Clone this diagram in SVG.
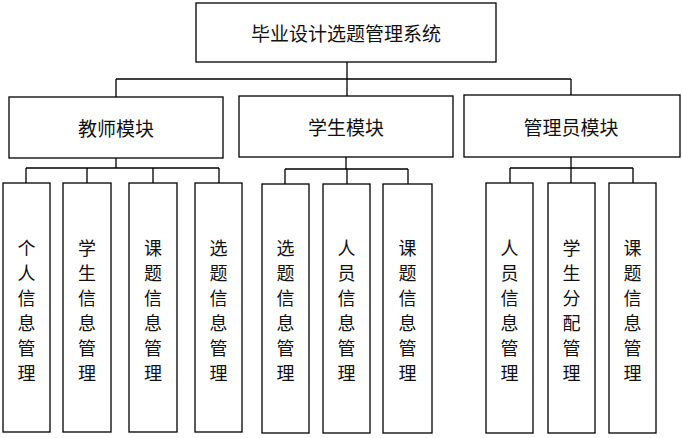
<svg xmlns="http://www.w3.org/2000/svg" width="682" height="438" viewBox="0 0 682 438">
<style>
rect{fill:#fff;stroke:#000;stroke-width:1.3}
.c path{fill:none;stroke:#000;stroke-width:1.3}
text{font-family:"Noto Sans CJK SC","Noto Sans",sans-serif;fill:#111;text-anchor:middle;dominant-baseline:central}
.t{font-size:19px}
.v{font-size:18px}
</style>
<rect x="0" y="0" width="682" height="438" style="stroke:none"/>
<g class="c">
<path d="M347 62V79M116 79H571M116 79V97M347 79V96M571 79V95"/>
<path d="M116 158V168M26 168H219M26 168V183M87 168V183M153 168V183M219 168V183"/>
<path d="M346 157V169M285 169H408M285 169V184M347 169V184M408 169V184"/>
<path d="M571 157V168M510 168H633M510 168V183M571 168V183M633 168V183"/>
</g>
<g id="root"><rect x="196" y="3" width="300" height="59"/><text class="t" x="346" y="32">毕业设计选题管理系统</text></g>
<g id="teacher"><rect x="9" y="97" width="214" height="61"/><text class="t" x="116" y="127">教师模块</text></g>
<g id="student"><rect x="239" y="96" width="214" height="61"/><text class="t" x="346" y="126">学生模块</text></g>
<g id="admin"><rect x="464" y="95" width="216" height="62"/><text class="t" x="571" y="126">管理员模块</text></g>
<g id="t1"><rect x="3" y="183" width="47" height="249"/><text class="v" x="26.5"><tspan x="26.5" y="247">个</tspan><tspan x="26.5" y="272">人</tspan><tspan x="26.5" y="297">信</tspan><tspan x="26.5" y="322">息</tspan><tspan x="26.5" y="347">管</tspan><tspan x="26.5" y="372">理</tspan></text></g>
<g id="t2"><rect x="63" y="183" width="48" height="249"/><text class="v"><tspan x="87" y="247">学</tspan><tspan x="87" y="272">生</tspan><tspan x="87" y="297">信</tspan><tspan x="87" y="322">息</tspan><tspan x="87" y="347">管</tspan><tspan x="87" y="372">理</tspan></text></g>
<g id="t3"><rect x="129" y="183" width="48" height="249"/><text class="v"><tspan x="153" y="247">课</tspan><tspan x="153" y="272">题</tspan><tspan x="153" y="297">信</tspan><tspan x="153" y="322">息</tspan><tspan x="153" y="347">管</tspan><tspan x="153" y="372">理</tspan></text></g>
<g id="t4"><rect x="195" y="183" width="47" height="249"/><text class="v"><tspan x="218.5" y="247">选</tspan><tspan x="218.5" y="272">题</tspan><tspan x="218.5" y="297">信</tspan><tspan x="218.5" y="322">息</tspan><tspan x="218.5" y="347">管</tspan><tspan x="218.5" y="372">理</tspan></text></g>
<g id="s1"><rect x="262" y="184" width="47" height="249"/><text class="v"><tspan x="285.5" y="247">选</tspan><tspan x="285.5" y="272">题</tspan><tspan x="285.5" y="297">信</tspan><tspan x="285.5" y="322">息</tspan><tspan x="285.5" y="347">管</tspan><tspan x="285.5" y="372">理</tspan></text></g>
<g id="s2"><rect x="323" y="184" width="47" height="249"/><text class="v"><tspan x="346.5" y="247">人</tspan><tspan x="346.5" y="272">员</tspan><tspan x="346.5" y="297">信</tspan><tspan x="346.5" y="322">息</tspan><tspan x="346.5" y="347">管</tspan><tspan x="346.5" y="372">理</tspan></text></g>
<g id="s3"><rect x="383" y="184" width="49" height="249"/><text class="v"><tspan x="407.5" y="247">课</tspan><tspan x="407.5" y="272">题</tspan><tspan x="407.5" y="297">信</tspan><tspan x="407.5" y="322">息</tspan><tspan x="407.5" y="347">管</tspan><tspan x="407.5" y="372">理</tspan></text></g>
<g id="a1"><rect x="486" y="183" width="47" height="250"/><text class="v"><tspan x="509.5" y="247">人</tspan><tspan x="509.5" y="272">员</tspan><tspan x="509.5" y="297">信</tspan><tspan x="509.5" y="322">息</tspan><tspan x="509.5" y="347">管</tspan><tspan x="509.5" y="372">理</tspan></text></g>
<g id="a2"><rect x="548" y="183" width="47" height="250"/><text class="v"><tspan x="571.5" y="247">学</tspan><tspan x="571.5" y="272">生</tspan><tspan x="571.5" y="297">分</tspan><tspan x="571.5" y="322">配</tspan><tspan x="571.5" y="347">管</tspan><tspan x="571.5" y="372">理</tspan></text></g>
<g id="a3"><rect x="609" y="183" width="47" height="250"/><text class="v"><tspan x="632.5" y="247">课</tspan><tspan x="632.5" y="272">题</tspan><tspan x="632.5" y="297">信</tspan><tspan x="632.5" y="322">息</tspan><tspan x="632.5" y="347">管</tspan><tspan x="632.5" y="372">理</tspan></text></g>
</svg>
